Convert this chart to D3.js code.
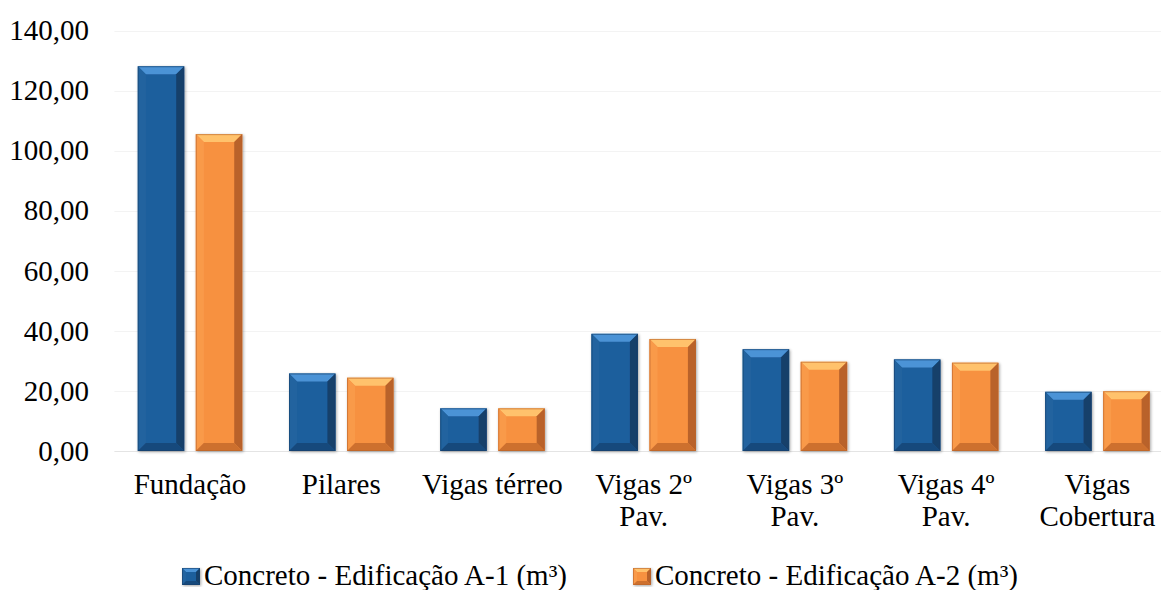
<!DOCTYPE html>
<html>
<head>
<meta charset="utf-8">
<title>Concreto por elemento</title>
<script src="https://d3js.org/d3.v7.min.js"></script>
<style>
  body { margin: 0; background: #fff; }
  svg text { font-family: "Liberation Serif", "Times New Roman", Times, "DejaVu Serif", serif; fill: #000; }
</style>
</head>
<body>
<script>
// categories (two-line labels split on "|")
var categories = ["Fundação", "Pilares", "Vigas térreo", "Vigas 2º|Pav.", "Vigas 3º|Pav.", "Vigas 4º|Pav.", "Vigas|Cobertura"];
var seriesNames = ["Concreto - Edificação A-1 (m³)", "Concreto - Edificação A-2 (m³)"];
var valuesA1 = [128.1, 25.8, 14.2, 39.0, 33.9, 30.5, 19.7];
var valuesA2 = [105.5, 24.4, 14.2, 37.3, 29.7, 29.4, 19.9];
var yTicks = [0, 20, 40, 60, 80, 100, 120, 140];

var W = 1161, H = 590;
var fontSize = 29;
var serif = "'Liberation Serif', 'Times New Roman', Times, 'DejaVu Serif', serif";

// colours: main, top bevel, left bevel, right bevel, bottom bevel
var palettes = [
    {main: "#1f5e9d", top: "#4b93d6", left: "#22649f", right: "#153f6a", bottom: "#184a7b"},
    {main: "#f7913f", top: "#ffc26c", left: "#f99a4a", right: "#b9622a", bottom: "#cd6f2f"}
];

var svg = d3.select("body").append("svg")
    .attr("width", W)
    .attr("height", H);

var x = d3.scaleBand().domain(categories).range([114.4, 1173]).paddingInner(0).paddingOuter(0);
var xSub = d3.scaleBand().domain([0, 1]).range([23.4, x.bandwidth() - 23.4]).paddingInner(0.2);
var y = d3.scaleLinear().domain([0, 140]).range([451, 30.5]);

// gridlines
svg.append("g")
    .selectAll("line")
    .data(yTicks)
    .enter()
    .append("line")
    .attr("x1", 114.4)
    .attr("x2", W)
    .attr("y1", function(d) { return Math.round(y(d)) + 0.5; })
    .attr("y2", function(d) { return Math.round(y(d)) + 0.5; })
    .attr("stroke", function(d) { return d == 0 ? "#e4e4e4" : "#f3f3f3"; })
    .attr("stroke-width", 1);

// y axis labels
var yAxis = d3.axisLeft(y)
    .tickValues(yTicks)
    .tickSize(0)
    .tickPadding(0)
    .tickFormat(function(d) { return d3.format(".2f")(d).replace(".", ","); });

var yAxisGroup = svg.append("g")
    .attr("transform", "translate(89,0)")
    .call(yAxis)
    .attr("font-family", serif)
    .attr("font-size", fontSize);
yAxisGroup.select(".domain").remove();
yAxisGroup.selectAll("text")
    .style("font-family", serif)
    .attr("fill", "#000");

// shadow
var defs = svg.append("defs");
var shadow = defs.append("filter").attr("id", "shadow")
    .attr("x", "-20%").attr("y", "-10%").attr("width", "140%").attr("height", "120%");
shadow.append("feGaussianBlur").attr("in", "SourceAlpha").attr("stdDeviation", 1.5);
shadow.append("feOffset").attr("dx", 1).attr("dy", 1).attr("result", "blur");
shadow.append("feComponentTransfer").append("feFuncA").attr("type", "linear").attr("slope", 0.35);
var merge = shadow.append("feMerge");
merge.append("feMergeNode");
merge.append("feMergeNode").attr("in", "SourceGraphic");

function bevelBar(g, x0, y0, w, h, pal, b) {
    var x1 = x0 + w, y1 = y0 + h;
    b = Math.min(b, w / 2, h / 2);
    var gg = g.append("g").attr("filter", "url(#shadow)");
    gg.append("rect")
        .attr("x", x0).attr("y", y0).attr("width", w).attr("height", h)
        .attr("fill", pal.main);
    var faces = [
        {pts: [[x0, y0], [x1, y0], [x1 - b, y0 + b], [x0 + b, y0 + b]], c: pal.top},
        {pts: [[x0, y0], [x0 + b, y0 + b], [x0 + b, y1 - b], [x0, y1]], c: pal.left},
        {pts: [[x1, y0], [x1, y1], [x1 - b, y1 - b], [x1 - b, y0 + b]], c: pal.right},
        {pts: [[x0, y1], [x0 + b, y1 - b], [x1 - b, y1 - b], [x1, y1]], c: pal.bottom}
    ];
    gg.selectAll("polygon.face")
        .data(faces)
        .enter()
        .append("polygon")
        .attr("class", "face")
        .attr("points", function(d) { return d.pts.map(function(p) { return p.join(","); }).join(" "); })
        .attr("fill", function(d) { return d.c; });
    gg.append("rect")
        .attr("x", x0 + 0.5).attr("y", y0 + 0.5).attr("width", w - 1).attr("height", h - 1)
        .attr("fill", "none")
        .attr("stroke", pal.right)
        .attr("stroke-opacity", 0.6);
}

// bars
var barsGroup = svg.append("g");
[valuesA1, valuesA2].forEach(function(vals, s) {
    vals.forEach(function(v, i) {
        var bx = x(categories[i]) + xSub(s);
        bevelBar(barsGroup, bx, y(v), xSub.bandwidth(), y(0) - y(v), palettes[s], 8);
    });
});

// category labels
var catGroup = svg.append("g");
categories.forEach(function(c) {
    var lines = c.split("|");
    var t = catGroup.append("text")
        .attr("x", x(c) + x.bandwidth() / 2)
        .attr("y", 494)
        .attr("text-anchor", "middle")
        .style("font-family", serif)
        .attr("font-size", fontSize);
    lines.forEach(function(l, k) {
        t.append("tspan")
            .attr("x", x(c) + x.bandwidth() / 2)
            .attr("dy", k == 0 ? 0 : 32)
            .text(l);
    });
});

// legend
var legendX = [182, 633];
var legend = svg.append("g");
seriesNames.forEach(function(name, s) {
    bevelBar(legend, legendX[s], 568, 18, 17, palettes[s], 4);
    legend.append("text")
        .attr("x", legendX[s] + 22)
        .attr("y", 585)
        .style("font-family", serif)
        .attr("font-size", fontSize)
        .text(name);
});
</script>
</body>
</html>
